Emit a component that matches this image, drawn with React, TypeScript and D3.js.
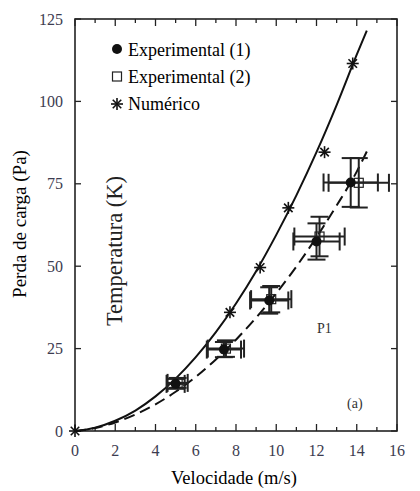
import React from "react";
import * as d3 from "d3";

// ---------- data ----------
const xTicks = [0, 2, 4, 6, 8, 10, 12, 14, 16];
const yTicks = [0, 25, 50, 75, 100, 125];

// Numerical results (asterisks)
const numX = [0, 7.7, 9.2, 10.6, 12.4, 13.8];
const numY = [0, 36, 49.6, 67.7, 84.6, 111.5];

// Experimental (1) – filled circles
const exp1X = [5.0, 7.4, 9.65, 12.0, 13.7];
const exp1Y = [14.3, 24.7, 39.6, 57.5, 75.4];
const exp1Xerr = [0.45, 0.85, 0.95, 1.15, 1.35];
const exp1Yerr = [1.5, 2.3, 4.0, 5.5, 7.4];

// Experimental (2) – open squares
const exp2X = [5.1, 7.5, 9.75, 12.15, 14.1];
const exp2Y = [14.6, 25.0, 40.0, 59.0, 75.3];
const exp2Xerr = [0.5, 0.9, 1.0, 1.25, 1.5];
const exp2Yerr = [1.5, 2.5, 4.0, 6.0, 7.5];

// Solid fitted curve
const solidX = [0, 1, 2, 3, 4, 5, 6, 7, 8, 9, 10, 11, 12, 13, 14, 14.5];
const solidY = [0, 1.0, 3.1, 6.2, 10.5, 15.9, 22.4, 30.0, 38.7, 48.5, 59.5, 71.5, 84.6, 98.9, 114.2, 121.5];

// Dashed fitted curve
const dashX = [0, 1, 2, 3, 4, 5, 6, 7, 8, 9, 10, 11, 12, 13, 14, 14.5];
const dashY = [0, 0.9, 2.6, 5.0, 8.1, 11.9, 16.4, 21.7, 27.7, 34.4, 41.8, 49.9, 58.8, 68.4, 78.7, 84.8];

const legendLabels = ["Experimental (1)", "Experimental (2)", "Numérico"];

// ---------- layout ----------
const W = 420;
const H = 491;
const L = 75, R = 397, T = 19, B = 431;
const FONT = "Times New Roman";
const TICKCOL = "#3c3c50";

export default function App() {
  const x = d3.scaleLinear().domain([0, 16]).range([L, R]);
  const y = d3.scaleLinear().domain([0, 125]).range([B, T]);

  const line = d3
    .line<[number, number]>()
    .x((d) => x(d[0]))
    .y((d) => y(d[1]))
    .curve(d3.curveMonotoneX);

  const solidPath = line(solidX.map((v, i) => [v, solidY[i]]) as [number, number][]) || "";
  const dashPath = line(dashX.map((v, i) => [v, dashY[i]]) as [number, number][]) || "";

  const minorX = d3.range(0, 17, 1);

  const asterisk = (cx: number, cy: number, r: number, key: string) => (
    <g key={key} stroke="#111" strokeWidth={1.6}>
      {[0, 45, 90, 135].map((a) => {
        const rad = (a * Math.PI) / 180;
        return (
          <line
            key={a}
            x1={cx - r * Math.cos(rad)}
            y1={cy - r * Math.sin(rad)}
            x2={cx + r * Math.cos(rad)}
            y2={cy + r * Math.sin(rad)}
          />
        );
      })}
    </g>
  );

  const cap = 9;
  const errorBars = (
    xs: number[],
    ys: number[],
    xe: number[],
    ye: number[],
    k: string
  ) =>
    xs.map((xv, i) => {
      const cx = x(xv);
      const cy = y(ys[i]);
      const x0 = x(xv - xe[i]);
      const x1 = x(xv + xe[i]);
      const y0 = y(ys[i] - ye[i]);
      const y1 = y(ys[i] + ye[i]);
      return (
        <g key={k + i} stroke="#222" strokeWidth={2} fill="none">
          <line x1={x0} y1={cy} x2={x1} y2={cy} />
          <line x1={x0} y1={cy - cap} x2={x0} y2={cy + cap} />
          <line x1={x1} y1={cy - cap} x2={x1} y2={cy + cap} />
          <line x1={cx} y1={y0} x2={cx} y2={y1} />
          <line x1={cx - cap} y1={y0} x2={cx + cap} y2={y0} />
          <line x1={cx - cap} y1={y1} x2={cx + cap} y2={y1} />
        </g>
      );
    });

  const tStyle = { fontFamily: FONT };

  return (
    <svg width={W} height={H} style={{ position: "absolute", left: 0, top: 0, background: "#fff" }}>
      <rect x={0} y={0} width={W} height={H} fill="#fff" />

      {/* frame */}
      <rect x={L} y={T} width={R - L} height={B - T} fill="none" stroke="#222" strokeWidth={1.6} />

      {/* x ticks (bottom + top, inward) */}
      {minorX.map((v) => {
        const major = v % 2 === 0;
        const len = major ? 7 : 4;
        return (
          <g key={"xt" + v} stroke="#222" strokeWidth={1.3}>
            <line x1={x(v)} y1={B} x2={x(v)} y2={B - len} />
            <line x1={x(v)} y1={T} x2={x(v)} y2={T + len} />
          </g>
        );
      })}
      {xTicks.map((v) => (
        <text key={"xl" + v} x={x(v)} y={456} textAnchor="middle" fontSize={16} fill={TICKCOL} style={tStyle}>
          {String(v)}
        </text>
      ))}

      {/* y ticks */}
      {yTicks.map((v) => (
        <g key={"yt" + v} stroke="#222" strokeWidth={1.3}>
          <line x1={L} y1={y(v)} x2={L + 6} y2={y(v)} />
          <line x1={R} y1={y(v)} x2={R - 6} y2={y(v)} />
        </g>
      ))}
      {yTicks.map((v) => (
        <text key={"yl" + v} x={63} y={y(v) + 5.5} textAnchor="end" fontSize={16} fill={TICKCOL} style={tStyle}>
          {String(v)}
        </text>
      ))}

      {/* axis titles */}
      <text x={234} y={484} textAnchor="middle" fontSize={18.5} style={tStyle}>
        Velocidade (m/s)
      </text>
      <text transform="translate(26,224) rotate(-90)" textAnchor="middle" fontSize={19} style={tStyle}>
        Perda de carga (Pa)
      </text>
      <text transform="translate(122,251) rotate(-90)" textAnchor="middle" fontSize={22.5} fill="#222" style={tStyle}>
        Temperatura (K)
      </text>

      {/* annotations */}
      <text x={317} y={333} fontSize={14} fill="#333" style={tStyle}>
        P1
      </text>
      <text x={347} y={408} fontSize={14} fill="#333" style={tStyle}>
        (a)
      </text>

      {/* curves */}
      <path d={solidPath} fill="none" stroke="#111" strokeWidth={2} />
      <path d={dashPath} fill="none" stroke="#111" strokeWidth={2} strokeDasharray="11 6" />

      {/* error bars */}
      {errorBars(exp2X, exp2Y, exp2Xerr, exp2Yerr, "e2")}
      {errorBars(exp1X, exp1Y, exp1Xerr, exp1Yerr, "e1")}

      {/* experimental (2) squares */}
      {exp2X.map((v, i) => (
        <rect
          key={"sq" + i}
          x={x(v) - 4.5}
          y={y(exp2Y[i]) - 4.5}
          width={9}
          height={9}
          fill="none"
          stroke="#222"
          strokeWidth={1.2}
        />
      ))}
      {/* experimental (1) circles */}
      {exp1X.map((v, i) => (
        <circle key={"c" + i} cx={x(v)} cy={y(exp1Y[i])} r={5} fill="#111" />
      ))}

      {/* numerical asterisks */}
      {numX.map((v, i) => asterisk(x(v), y(numY[i]), 6, "n" + i))}

      {/* legend */}
      <circle cx={117} cy={49} r={5} fill="#111" />
      <rect x={112.5} y={72} width={9} height={9} fill="#fff" stroke="#222" strokeWidth={1.2} />
      {asterisk(117, 104, 6, "lg")}
      {legendLabels.map((t, i) => (
        <text key={t} x={128} y={56 + i * 27} fontSize={18} style={tStyle}>
          {t}
        </text>
      ))}
    </svg>
  );
}
